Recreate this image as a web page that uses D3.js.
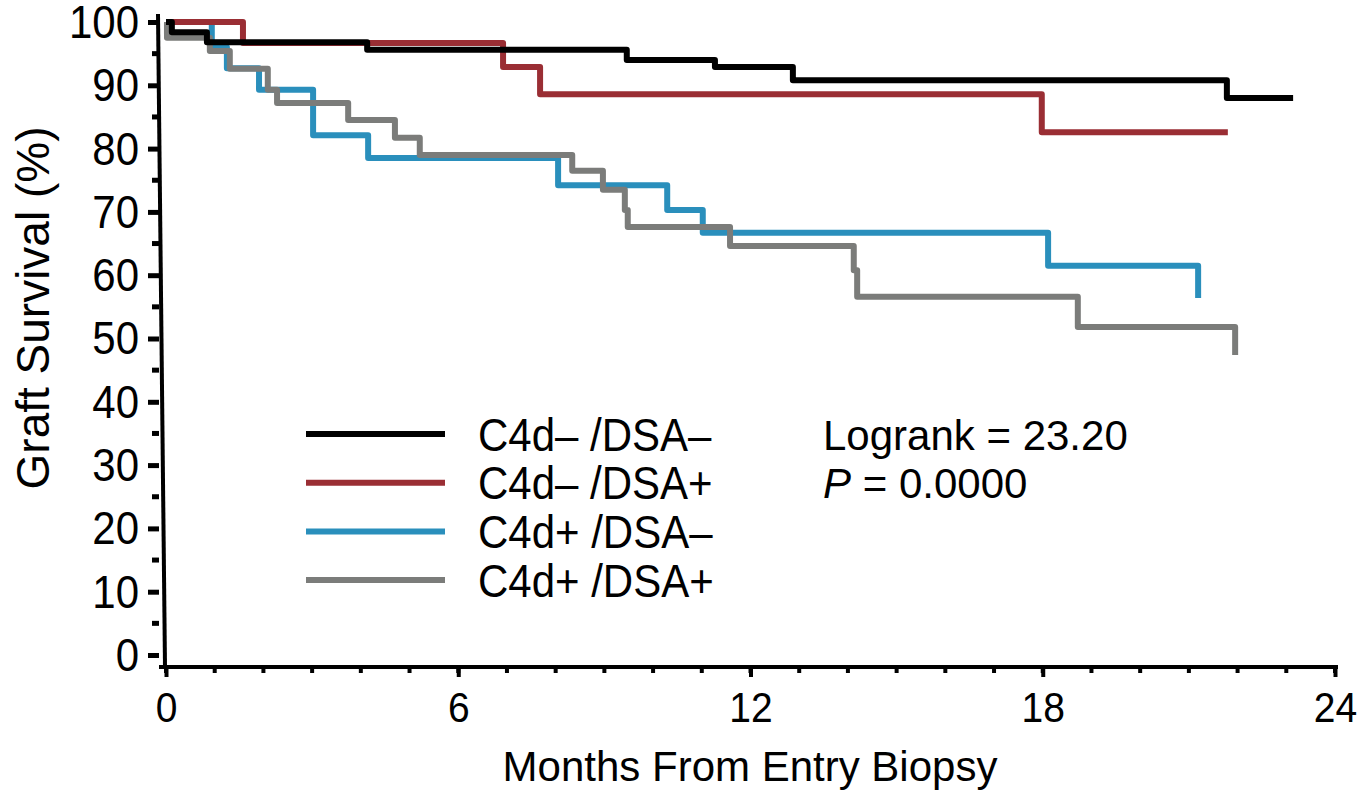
<!DOCTYPE html>
<html>
<head>
<meta charset="utf-8">
<script src="https://cdn.jsdelivr.net/npm/d3@7"></script>
<style>
  body { margin: 0; background: #fff; }
  text { font-family: "Liberation Sans", Arial, sans-serif; fill: #000; }
</style>
</head>
<body>
<div id="chart"></div>
<script>
const w = 1357,
    h = 791;

// Kaplan-Meier steps: month where the step starts, survival (%) from then on
const negNegMonths = [0, 0.12, 0.84, 4.13, 9.46, 11.27, 12.87, 21.78, 23.14];
const negNegSurv   = [100, 98.4, 96.8, 95.6, 94.0, 92.9, 90.8, 88.0, 88.0];

const negPosMonths = [0, 1.58, 6.92, 7.68, 17.98, 21.8];
const negPosSurv   = [100, 96.7, 92.9, 88.6, 82.6, 82.6];

const posNegMonths = [0, 0.94, 1.25, 1.91, 3.02, 4.15, 8.05, 10.29, 11.02, 18.11, 21.19];
const posNegSurv   = [100, 96.0, 92.7, 89.3, 82.1, 78.5, 74.2, 70.3, 66.7, 61.5, 56.4];

const posPosMonths = [0, 0.02, 0.9, 1.31, 2.09, 2.28, 3.74, 4.70, 5.21, 8.34, 8.97, 9.42, 9.48, 11.58, 14.12, 14.19, 18.72, 21.95];
const posPosSurv   = [100, 97.5, 95.4, 92.6, 89.3, 87.2, 84.5, 81.7, 79.0, 76.5, 73.5, 70.3, 67.6, 64.6, 60.8, 56.6, 51.8, 47.4];

const groupNames = ["C4d\u2013 /DSA\u2013", "C4d\u2013 /DSA+", "C4d+ /DSA\u2013", "C4d+ /DSA+"];
const groupColors = ["#000000", "#9a2e34", "#2a8fbc", "#7b7c7a"];

const xTicks = [0, 6, 12, 18, 24];
const yTicks = [0, 10, 20, 30, 40, 50, 60, 70, 80, 90, 100];

const series = [
    d3.zip(negNegMonths, negNegSurv),
    d3.zip(negPosMonths, negPosSurv),
    d3.zip(posNegMonths, posNegSurv),
    d3.zip(posPosMonths, posPosSurv)
];

const svg = d3.select("#chart")
    .append("svg")
    .attr("width", w)
    .attr("height", h);

const xScale = d3.scaleLinear().domain([0, 24]).range([166, 1335]);
const yScale = d3.scaleLinear().domain([0, 100]).range([655, 22]);

// x axis, offset below zero like the original
const xAxis = svg.append("g")
    .attr("transform", "translate(0,667)")
    .call(d3.axisBottom(xScale).tickValues(xTicks).tickSize(10).tickSizeOuter(0).tickPadding(12));

xAxis.append("g")
    .selectAll("line")
    .data(d3.range(0, 25))
    .enter()
    .append("line")
    .attr("x1", function (d) { return xScale(d) })
    .attr("x2", function (d) { return xScale(d) })
    .attr("y1", 0)
    .attr("y2", 6)
    .attr("stroke", "#000")
    .attr("stroke-width", 4);

xAxis.select(".domain").attr("stroke-width", 4).attr("d", "M159,0H1338");
xAxis.selectAll(".tick line").attr("stroke-width", 4);
xAxis.selectAll(".tick text")
    .style("font-size", "39px")
    .attr("transform", "scale(1,1.1)");

// y axis
const yAxis = svg.append("g")
    .attr("transform", "translate(159,0)")
    .call(d3.axisLeft(yScale).tickValues(yTicks).tickSize(11).tickSizeOuter(0).tickPadding(9));

yAxis.append("g")
    .selectAll("line")
    .data(d3.range(5, 100, 10))
    .enter()
    .append("line")
    .attr("x1", -7)
    .attr("x2", 0)
    .attr("y1", function (d) { return yScale(d) })
    .attr("y2", function (d) { return yScale(d) })
    .attr("stroke", "#000")
    .attr("stroke-width", 5);

yAxis.select(".domain").attr("stroke-width", 4).attr("d", "M-1,14L6,667");
yAxis.selectAll(".tick line").attr("stroke-width", 5);
yAxis.selectAll(".tick text")
    .style("font-size", "42px")
    .attr("dy", "0.34em")
    .attr("transform", "scale(1,1.08)");

// curves
const line = d3.line()
    .x(function (d) { return xScale(d[0]) })
    .y(function (d) { return yScale(d[1]) })
    .curve(d3.curveStepAfter);

const drawOrder = [2, 3, 1, 0];

svg.append("g")
    .selectAll("path")
    .data(drawOrder)
    .enter()
    .append("path")
    .attr("d", function (i) { return line(series[i]) })
    .attr("fill", "none")
    .attr("stroke", function (i) { return groupColors[i] })
    .attr("stroke-width", 6)
    .attr("stroke-linejoin", "round");

// legend
const legend = svg.append("g")
    .selectAll("g")
    .data(groupNames)
    .enter()
    .append("g")
    .attr("transform", function (d, i) { return "translate(306," + (434 + i * 48.7) + ")" });

legend.append("line")
    .attr("x1", 0)
    .attr("x2", 139)
    .attr("stroke", function (d, i) { return groupColors[i] })
    .attr("stroke-width", 6);

legend.append("text")
    .attr("x", 172)
    .attr("dy", "0.36em")
    .style("font-size", "42px")
    .attr("transform", "scale(1,1.1)")
    .text(function (d) { return d });

// statistics
svg.append("text")
    .attr("x", 823)
    .attr("y", 450)
    .style("font-size", "42px")
    .text("Logrank = 23.20");

const pText = svg.append("text")
    .attr("x", 823)
    .attr("y", 498)
    .style("font-size", "42px");
pText.append("tspan").style("font-style", "italic").text("P");
pText.append("tspan").text(" = 0.0000");

// axis titles
svg.append("text")
    .attr("x", 750)
    .attr("y", 781)
    .attr("text-anchor", "middle")
    .style("font-size", "42px")
    .text("Months From Entry Biopsy");

svg.append("text")
    .attr("transform", "translate(49,308) rotate(-90)")
    .attr("text-anchor", "middle")
    .style("font-size", "46px")
    .text("Graft Survival (%)");
</script>
</body>
</html>
